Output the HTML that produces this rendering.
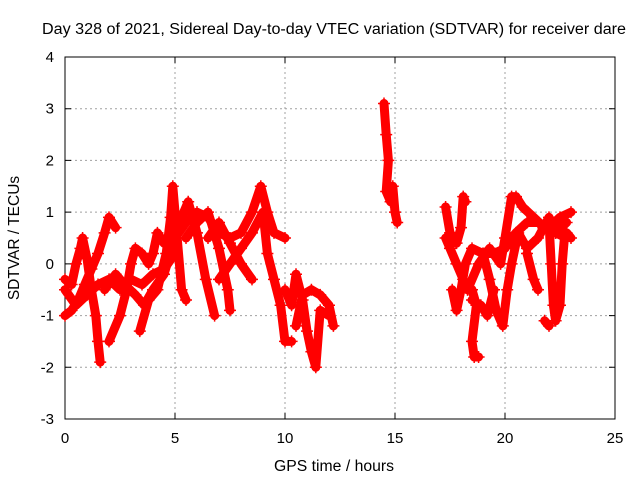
<!DOCTYPE html>
<html><head><meta charset="utf-8"><style>
body{margin:0;background:#fff}
svg{display:block;font-family:"Liberation Sans",sans-serif}
</style></head><body>
<svg id="chart" width="640" height="480" viewBox="0 0 640 480">
<rect width="640" height="480" fill="#fff"/>
<text x="42" y="34" font-size="15.5" textLength="584" lengthAdjust="spacingAndGlyphs">Day 328 of 2021, Sidereal Day-to-day VTEC variation (SDTVAR) for receiver dare</text>
<text x="274" y="471" font-size="15.5" textLength="120" lengthAdjust="spacingAndGlyphs">GPS time / hours</text>
<text transform="translate(19,238) rotate(-90)" font-size="15.5" text-anchor="middle">SDTVAR / TECUs</text>
<g id="grid"></g>
<g id="axes"></g>
<g id="series"></g>
</svg>
<script>
const xTicks=[0,5,10,15,20,25];
const yTicks=[-3,-2,-1,0,1,2,3,4];
const tracks=[
[[0,-1.0],[0.3,-0.9],[0.6,-0.7],[0.9,-0.4],[1.2,-0.1],[1.5,0.2],[1.8,0.6],[2.0,0.9],[2.3,0.7]],
[[0,-0.3],[0.3,-0.4],[0.5,0],[0.7,0.3],[0.8,0.5],[1.0,0.1],[1.2,-0.5],[1.4,-1.0],[1.5,-1.5],[1.6,-1.9]],
[[0,-0.5],[0.5,-0.8],[1.0,-0.6],[1.5,-0.4],[2,-0.3],[2.5,-0.5],[3,-0.3],[3.5,-0.4],[4,-0.2],[4.5,-0.1],[5,0.2]],
[[2.0,-1.5],[2.5,-1.0],[2.8,-0.5],[3,0],[3.2,0.3],[3.5,0.2],[3.8,0.0],[4.0,0.2],[4.2,0.6],[4.5,0.4]],
[[3.4,-1.3],[3.8,-0.7],[4.2,-0.5],[4.6,0.2],[4.8,0.9],[4.9,1.5],[5.1,0.5],[5.3,-0.5],[5.5,-0.7]],
[[1.8,-0.5],[2.3,-0.2],[2.7,-0.4],[3.2,-0.6],[3.6,-0.8],[4.0,-0.5],[4.5,-0.2],[5,0.5],[5.5,0.8],[6,1.0],[6.5,0.9],[7,0.6],[7.5,0.5],[8,0.6],[8.5,1.0],[8.9,1.5],[9.2,1.0],[9.5,0.6],[10,0.5]],
[[4.8,0.4],[5.3,0.9],[5.6,1.2],[6,0.6],[6.4,-0.3],[6.8,-1.0]],
[[5.5,0.5],[6,0.8],[6.5,1.0],[7,0.3],[7.4,-0.5],[7.5,-0.9]],
[[6.5,0.5],[7,0.8],[7.5,0.4],[8,0.0],[8.5,-0.3]],
[[7,-0.3],[7.5,0],[8,0.3],[8.5,0.6],[9,1.0],[9.2,0.2],[9.5,-0.3],[9.8,-0.8],[10,-1.5],[10.3,-1.5]],
[[10,-0.5],[10.3,-0.8],[10.5,-0.2],[10.8,-0.7],[11,-1.3],[11.2,-1.7],[11.4,-2.0],[11.6,-0.9],[12,-1.0]],
[[10.5,-1.2],[10.8,-0.6],[11.2,-0.5],[11.6,-0.6],[12,-0.8],[12.2,-1.2]],
[[14.5,3.1],[14.6,2.5],[14.7,2.0],[14.6,1.4],[14.8,1.2],[14.9,1.5],[15,1.0],[15.1,0.8]],
[[17.3,1.1],[17.5,0.6],[17.8,0.4],[18,0.7],[18.1,1.3],[18.2,1.2]],
[[17.3,0.5],[17.5,0.3],[17.8,0.0],[18.1,-0.3],[18.3,-0.5],[18.5,-0.5],[18.7,-0.8],[18.5,-1.5],[18.6,-1.8],[18.8,-1.8]],
[[17.6,-0.5],[17.8,-0.9],[18,-0.5],[18.2,0],[18.5,0.3],[19,0.2],[19.5,0.2],[20,0.3],[20.3,0.5],[20.5,0.6],[21,0.8],[21.5,0.8],[22,0.7],[22.5,0.9],[23,1.0]],
[[18.3,-0.5],[18.8,0.0],[19.3,0.3],[19.8,0.0],[20,0.5],[20.3,1.3],[20.5,1.3],[20.8,1.1],[21.3,0.9],[21.8,0.7],[22.3,0.6],[22.8,0.8]],
[[19,0.2],[19.3,-0.3],[19.6,-0.9],[19.9,-1.2],[20.1,-0.5],[20.3,0],[20.6,0.6],[21,0.3],[21.5,0.5],[22,0.9],[22.3,0.6],[22.8,0.5]],
[[18.5,-0.7],[18.9,-0.8],[19.2,-1.0],[19.5,-0.5]],
[[21,0.2],[21.3,-0.3],[21.5,-0.5]],
[[22,0.8],[22.1,0],[22.2,-0.8],[22.3,-1.1],[22.5,-0.8],[22.6,0],[22.7,0.5],[22.8,0.6],[23,0.5]],
[[21.8,-1.1],[22,-1.2]]
];
const NS='http://www.w3.org/2000/svg';
const L=65,R=615,T=57,B=419,xMin=0,xMax=25,yMin=-3,yMax=4;
const sx=v=>L+(v-xMin)/(xMax-xMin)*(R-L);
const sy=v=>B-(v-yMin)/(yMax-yMin)*(B-T);
function mk(tag,attrs,parent){const e=document.createElementNS(NS,tag);for(const k in attrs)e.setAttribute(k,attrs[k]);parent.appendChild(e);return e;}
const grid=document.getElementById('grid'),axes=document.getElementById('axes'),series=document.getElementById('series');
xTicks.forEach(t=>{
  if(t>xMin&&t<xMax){const g=mk('line',{x1:sx(t),x2:sx(t),y1:T,y2:B,stroke:'#a0a0a0','stroke-dasharray':'2,3'},grid);
  
  }
  const tk=mk('path',{d:`M${sx(t)},${B}v-6M${sx(t)},${T}v6`,stroke:'#000'},axes);
  
  
  const lb=mk('text',{x:sx(t),y:B+24,'font-size':15,'text-anchor':'middle'},axes);lb.textContent=t;
  
  
});
yTicks.forEach(t=>{
  if(t>yMin&&t<yMax){const g=mk('line',{x1:L,x2:R,y1:sy(t),y2:sy(t),stroke:'#a0a0a0','stroke-dasharray':'2,3'},grid);
  
  }
  const tk=mk('path',{d:`M${L},${sy(t)}h6M${R},${sy(t)}h-6`,stroke:'#000'},axes);
  
  
  const lb=mk('text',{x:L-11,y:sy(t)+5,'font-size':15,'text-anchor':'end'},axes);lb.textContent=t;
  
  
});
const frame=mk('rect',{x:L,y:T,width:R-L,height:B-T,fill:'none',stroke:'#000'},axes);


tracks.forEach(tr=>{
  const pl=mk('polyline',{points:tr.map(p=>sx(p[0])+','+sy(p[1])).join(' '),fill:'none',stroke:'#f00','stroke-width':9,'stroke-linejoin':'round','stroke-linecap':'round'},series);
  
  
  tr.forEach(p=>{
    const m=mk('path',{d:`M${sx(p[0])-6},${sy(p[1])}h12M${sx(p[0])},${sy(p[1])-6}v12`,stroke:'#f00','stroke-width':1.5},series);
    
    
  });
});
</script>
</body></html>
